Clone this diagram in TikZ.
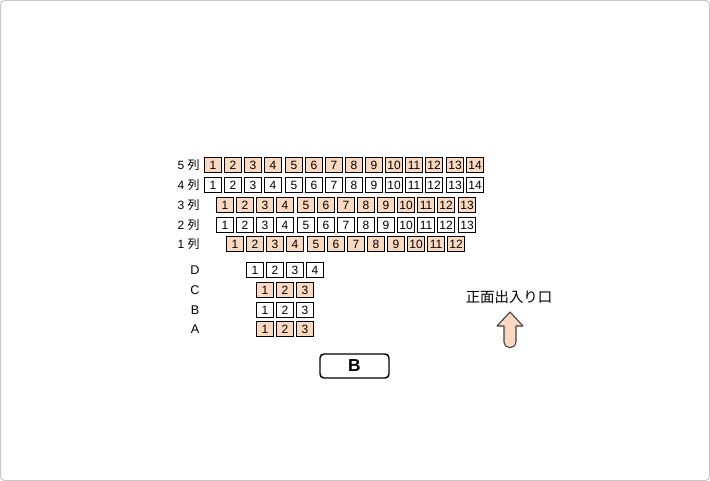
\documentclass[tikz,border=0pt]{standalone}
\usepackage{fontspec}
\setmainfont{Liberation Sans}
\newfontfamily\cjk{Noto Sans CJK JP}
\definecolor{peach}{RGB}{251,216,192}
\definecolor{frame}{RGB}{200,200,200}
\begin{document}
\begin{tikzpicture}[x=0.75pt,y=-0.75pt,
  seat/.style={draw=black,line width=0.85pt,minimum width=12.75pt,minimum height=11.25pt,inner sep=0pt,font=\fontsize{9}{10}\selectfont},
  orange seat/.style={seat,fill=peach},
  white seat/.style={seat,fill=white},
  rowlabel/.style={anchor=east,inner sep=0pt,font=\fontsize{9}{10}\selectfont},
  seclabel/.style={inner sep=0pt,font=\fontsize{9.5}{11}\selectfont},
  stage/.style={draw=black,line width=1.1pt,rounded corners=3pt,minimum width=51.75pt,minimum height=18pt,inner sep=0pt,font=\bfseries\fontsize{13}{15}\selectfont},
  arrowshape/.style={draw=black!75,line width=0.8pt,fill=peach,line join=round}]
\useasboundingbox (0,0) rectangle (710,481);
\draw[frame,line width=0.75pt,rounded corners=3pt] (0.5,0.5) rectangle (709.5,480.5);
% rows 1-5
\foreach \n in {1,...,14} {\node[orange seat] (rFs\n) at ({213+round((\n-1)*20.13)},165) {\n};}
\foreach \n in {1,...,14} {\node[white seat] (rDs\n) at ({213+round((\n-1)*20.13)},185) {\n};}
\foreach \n in {1,...,13} {\node[orange seat] (rCs\n) at ({225+round((\n-1)*20.13)},205) {\n};}
\foreach \n in {1,...,13} {\node[white seat] (rBs\n) at ({225+round((\n-1)*20.13)},225) {\n};}
\foreach \n in {1,...,12} {\node[orange seat] (rAs\n) at ({235+round((\n-1)*20.13)},244) {\n};}
\node[rowlabel] (l5) at (200,165) {5 {\cjk 列}};
\node[rowlabel] (l4) at (200,185) {4 {\cjk 列}};
\node[rowlabel] (l3) at (200,205) {3 {\cjk 列}};
\node[rowlabel] (l2) at (200,225) {2 {\cjk 列}};
\node[rowlabel] (l1) at (200,244) {1 {\cjk 列}};
% section rows
\foreach \n in {1,...,4} {\node[white seat] (sDs\n) at ({255+(\n-1)*20},270) {\n};}
\foreach \n in {1,...,3} {\node[orange seat] (sCs\n) at ({265+(\n-1)*20},290) {\n};}
\foreach \n in {1,...,3} {\node[white seat] (sBs\n) at ({265+(\n-1)*20},310) {\n};}
\foreach \n in {1,...,3} {\node[orange seat] (sAs\n) at ({265+(\n-1)*20},329) {\n};}
\node[seclabel] (lD) at (195,270) {D};
\node[seclabel] (lC) at (195,290) {C};
\node[seclabel] (lB) at (195,310) {B};
\node[seclabel] (lA) at (195,329) {A};
% stage
\node[stage] (stageB) at (354.5,366) {B};
% entrance
\node[inner sep=0pt,font=\cjk\fontsize{10.8}{12}\selectfont] (entr) at (509,297) {正面出入り口};
\draw[arrowshape] (510,312) -- (523,326) -- (516,326) [rounded corners=4pt] -- (516,347.5) -- (504,347.5) [sharp corners] -- (504,326) -- (497,326) -- cycle;
\end{tikzpicture}
\end{document}
